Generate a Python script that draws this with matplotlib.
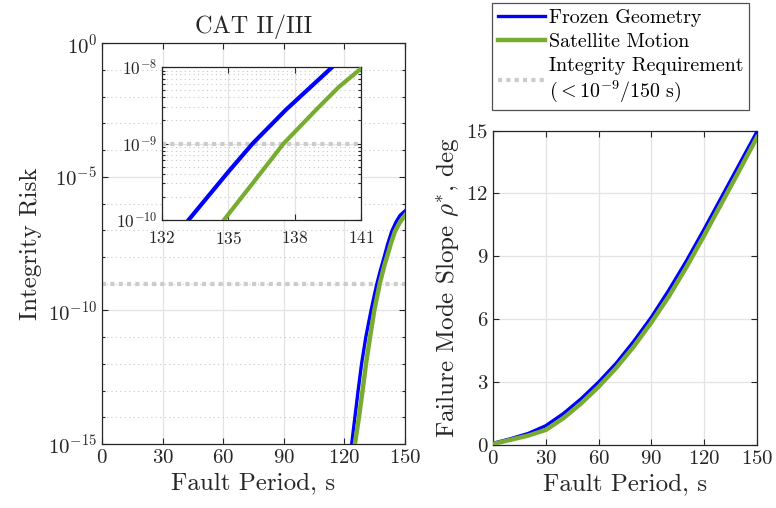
"""Integrity risk and failure mode slope vs. fault period (CAT II/III)."""

import matplotlib

matplotlib.use("Agg")
import matplotlib.pyplot as plt
from matplotlib.ticker import NullFormatter, LogFormatterSciNotation

plt.rcParams["font.family"] = ["cmr10", "DejaVu Serif"]
plt.rcParams["mathtext.fontset"] = "cm"
plt.rcParams["axes.formatter.use_mathtext"] = True
plt.rcParams["axes.unicode_minus"] = False

# ---- data ----
# integrity risk (log10) vs fault period, seconds
frozen_t = [122.5, 123.6, 125.2, 126.8, 128.5, 130.6, 133.2, 135.0, 136.1,
            137.6, 139.7, 141.5, 143.4, 145.5, 147.5, 150.0]
frozen_log_risk = [-15.7, -15.0, -14.0, -13.0, -12.0, -11.0, -10.0, -9.37, -9.0,
                   -8.56, -8.0, -7.5, -7.05, -6.7, -6.45, -6.28]
motion_t = [124.2, 125.2, 127.2, 129.0, 130.7, 132.7, 134.8, 136.1, 137.5,
            139.0, 140.0, 141.0, 143.0, 145.0, 147.5, 150.0]
motion_log_risk = [-15.6, -15.0, -14.0, -13.0, -12.0, -11.0, -10.0, -9.52, -9.0,
                   -8.55, -8.26, -8.02, -7.5, -7.05, -6.7, -6.44]
requirement = 1e-9

# failure mode slope rho*, deg
slope_t = [0, 10, 20, 30, 40, 50, 60, 70, 80, 90, 100, 110, 120, 130, 140, 150]
frozen_slope = [0.08, 0.3, 0.55, 0.92, 1.5, 2.2, 3.0, 3.9, 4.95, 6.1, 7.4,
                8.8, 10.3, 11.85, 13.4, 14.95]
motion_slope = [0.05, 0.25, 0.45, 0.72, 1.28, 1.98, 2.78, 3.68, 4.7, 5.85, 7.1,
                8.5, 10.0, 11.55, 13.1, 14.68]

x_ticks = [0, 30, 60, 90, 120, 150]
inset_x_ticks = [132, 135, 138, 141]

BLUE = "#0000ff"
GREEN = "#77ac30"
REQ_GRAY = "#cccccc"
AX_GRAY = "#262626"
GRID = "#e3e3e3"

frozen_risk = [10 ** v for v in frozen_log_risk]
motion_risk = [10 ** v for v in motion_log_risk]


def style_axes(ax, labelsize):
    for s in ax.spines.values():
        s.set_color(AX_GRAY)
        s.set_linewidth(0.9)
    ax.tick_params(which="both", direction="in", top=True, right=True,
                   colors=AX_GRAY, labelsize=labelsize, width=0.8)
    ax.tick_params(which="major", length=4)
    ax.tick_params(which="minor", length=2.5)
    ax.grid(True, which="major", color=GRID, linewidth=0.9, linestyle="-")
    ax.set_axisbelow(True)


fig = plt.figure(figsize=(7.76, 5.08), dpi=100)

# ---- left: integrity risk ----
ax1 = fig.add_axes([0.1314, 0.126, 0.3905, 0.789])
ax1.plot(frozen_t, frozen_risk, color=BLUE, lw=2.4, zorder=3)
ax1.plot(motion_t, motion_risk, color=GREEN, lw=3.2, zorder=4)
ax1.axhline(requirement, color=REQ_GRAY, lw=3.0, linestyle=(0, (1, 1)), zorder=2)
ax1.set_yscale("log")
ax1.set_xlim(0, 150)
ax1.set_ylim(1e-15, 1e0)
ax1.set_xticks(x_ticks)
ax1.set_yticks([1e0, 1e-5, 1e-10, 1e-15])
ax1.set_yticks([10.0 ** -k for k in range(16)], minor=True)
ax1.yaxis.set_major_formatter(LogFormatterSciNotation())
ax1.yaxis.set_minor_formatter(NullFormatter())
style_axes(ax1, 15)
ax1.grid(True, which="minor", axis="y", color="#c8c8c8", linewidth=0.8,
         linestyle=(0, (1, 3)))
ax1.set_xlabel("Fault Period, s", fontsize=18, color=AX_GRAY)
ax1.set_ylabel("Integrity Risk", fontsize=18, color=AX_GRAY)
ax1.set_title("CAT II/III", fontsize=17.5, color=AX_GRAY, pad=7)

# ---- inset ----
ax_in = fig.add_axes([0.2088, 0.567, 0.2564, 0.301])
ax_in.plot(frozen_t, frozen_risk, color=BLUE, lw=3.0, zorder=3)
ax_in.plot(motion_t, motion_risk, color=GREEN, lw=3.0, zorder=4)
ax_in.axhline(requirement, color=REQ_GRAY, lw=3.0, linestyle=(0, (1, 1)), zorder=2)
ax_in.set_yscale("log")
ax_in.set_xlim(132, 141)
ax_in.set_ylim(1e-10, 1e-8)
ax_in.set_xticks(inset_x_ticks)
ax_in.set_yticks([1e-10, 1e-9, 1e-8])
ax_in.yaxis.set_major_formatter(LogFormatterSciNotation())
ax_in.yaxis.set_minor_formatter(NullFormatter())
style_axes(ax_in, 12.5)
ax_in.tick_params(axis="x", pad=7)
ax_in.grid(True, which="minor", axis="y", color="#c8c8c8", linewidth=0.8,
           linestyle=(0, (1, 3)))

# ---- right: failure mode slope ----
ax2 = fig.add_axes([0.6353, 0.124, 0.3402, 0.619])
ax2.plot(slope_t, frozen_slope, color=BLUE, lw=2.4, zorder=3, label="Frozen Geometry")
ax2.plot(slope_t, motion_slope, color=GREEN, lw=3.2, zorder=4, label="Satellite Motion")
ax2.plot([], [], color=REQ_GRAY, lw=3.0, linestyle=(0, (1, 1)),
         label="Integrity Requirement\n($<10^{-9}/150$ s)")
ax2.set_xlim(0, 150)
ax2.set_ylim(0, 15)
ax2.set_xticks(x_ticks)
ax2.set_yticks([0, 3, 6, 9, 12, 15])
style_axes(ax2, 15)
ax2.set_xlabel("Fault Period, s", fontsize=18, color=AX_GRAY)
ax2.set_ylabel(r"Failure Mode Slope $\rho^{*}$, deg", fontsize=18, color=AX_GRAY)

leg = fig.legend(loc="upper left", bbox_to_anchor=(492 / 776, 1 - 3 / 508),
                 fontsize=14.4, frameon=True, fancybox=False, handlelength=2.35,
                 handletextpad=0.2, labelspacing=0.3, borderpad=0.28,
                 borderaxespad=0)
leg.get_frame().set_edgecolor(AX_GRAY)
leg.get_frame().set_linewidth(0.9)

fig.savefig("out.png", dpi=100)
